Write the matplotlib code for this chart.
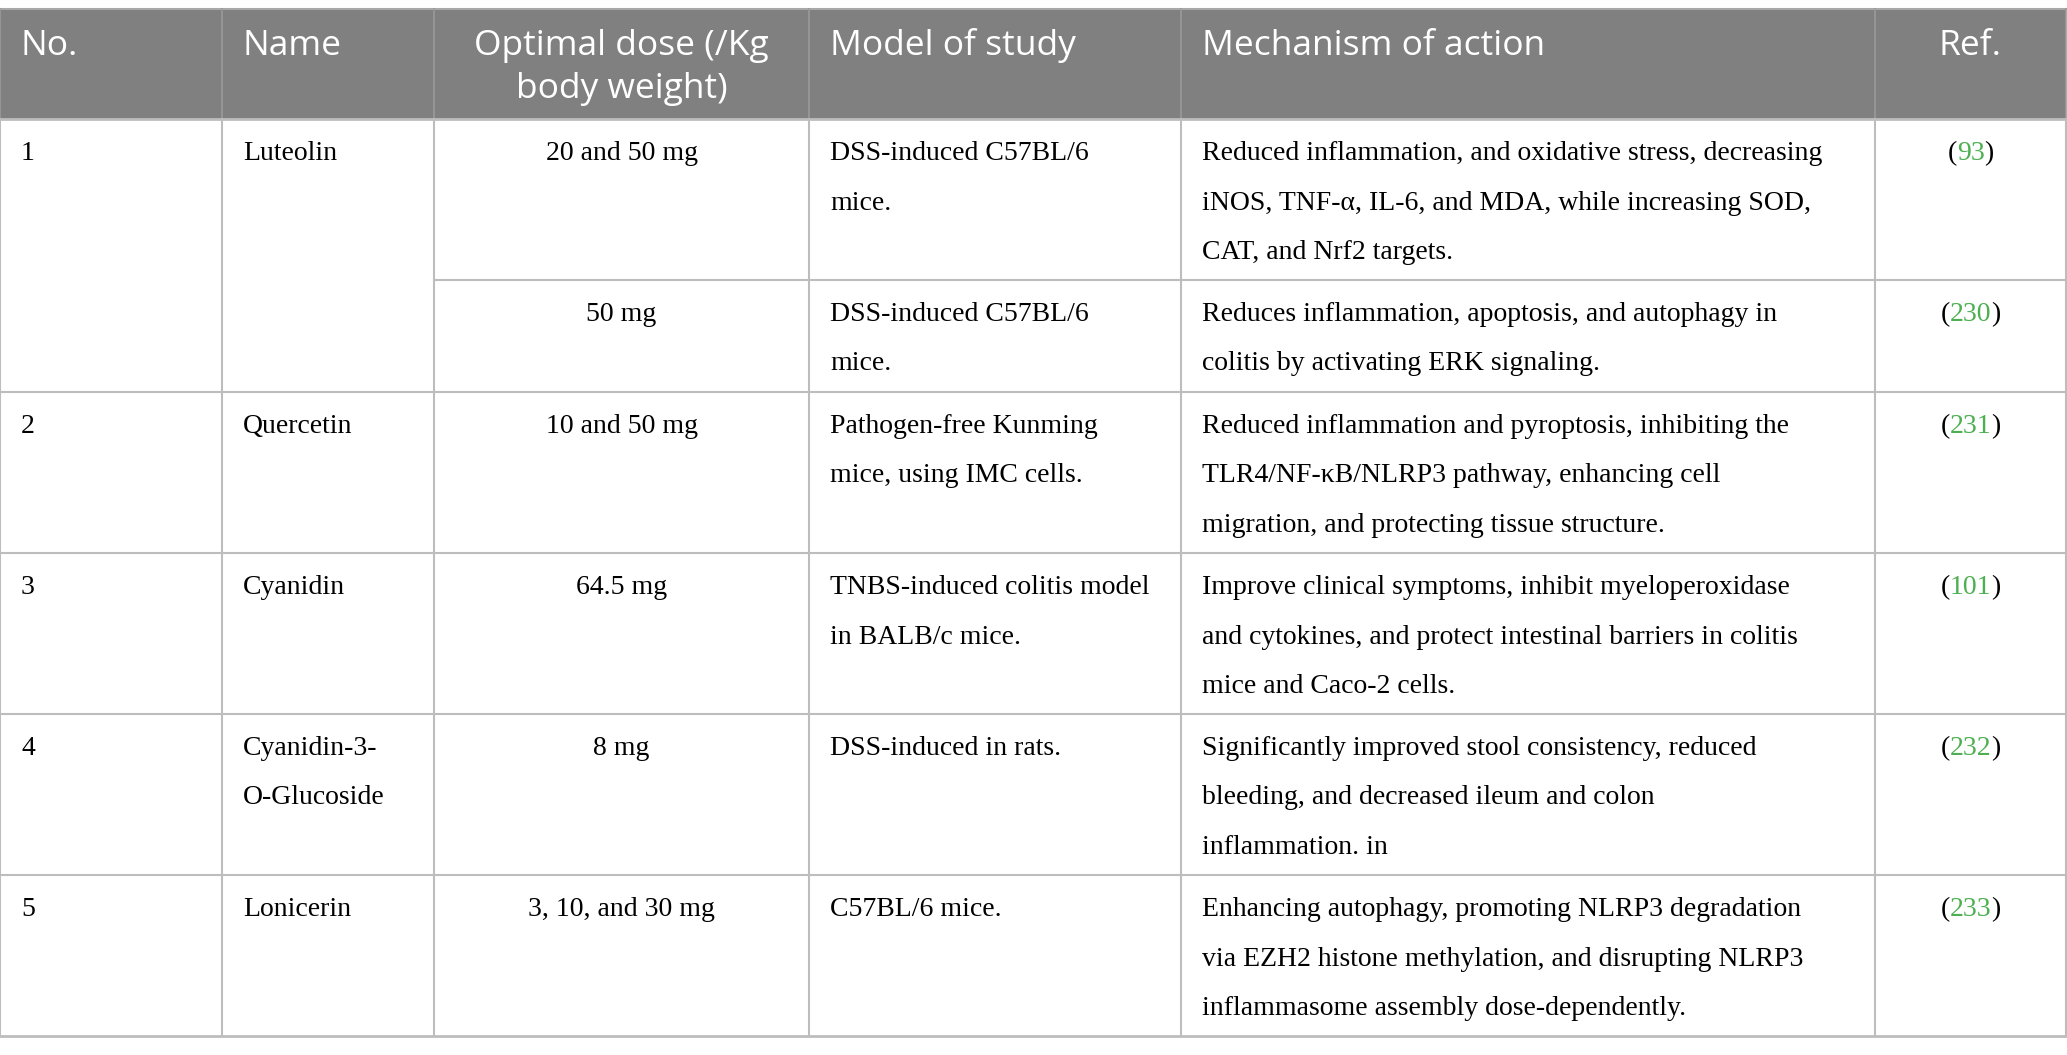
import matplotlib.pyplot as plt

W, H = 2067, 1055

HEADERS = ['No.', 'Name', 'Optimal dose (/Kg\nbody weight)', 'Model of study',
           'Mechanism of action', 'Ref.']
NOS = ['1', '1', '2', '3', '4', '5']
NAMES = ['Luteolin', 'Luteolin', 'Quercetin', 'Cyanidin', 'Cyanidin-3-\nO-Glucoside', 'Lonicerin']
DOSES = ['20 and 50 mg', '50 mg', '10 and 50 mg', '64.5 mg', '8 mg', '3, 10, and 30 mg']
MODELS = ['DSS-induced C57BL/6\nmice.',
          'DSS-induced C57BL/6\nmice.',
          'Pathogen-free Kunming\nmice, using IMC cells.',
          'TNBS-induced colitis model\nin BALB/c mice.',
          'DSS-induced in rats.',
          'C57BL/6 mice.']
MECHS = ['Reduced inflammation, and oxidative stress, decreasing\n'
         'iNOS, TNF-\u03b1, IL-6, and MDA, while increasing SOD,\nCAT, and Nrf2 targets.',
         'Reduces inflammation, apoptosis, and autophagy in\ncolitis by activating ERK signaling.',
         'Reduced inflammation and pyroptosis, inhibiting the\n'
         'TLR4/NF-\u03baB/NLRP3 pathway, enhancing cell\nmigration, and protecting tissue structure.',
         'Improve clinical symptoms, inhibit myeloperoxidase\n'
         'and cytokines, and protect intestinal barriers in colitis\nmice and Caco-2 cells.',
         'Significantly improved stool consistency, reduced\n'
         'bleeding, and decreased ileum and colon\ninflammation. in',
         'Enhancing autophagy, promoting NLRP3 degradation\n'
         'via EZH2 histone methylation, and disrupting NLRP3\ninflammasome assembly dose-dependently.']
REFS = ['93', '230', '231', '101', '232', '233']

COL_X = [0, 222, 434, 809, 1181, 1875, 2066]
ALIGN = ['left', 'left', 'center', 'left', 'left', 'center']
HEAD_COLOR = '#7f807f'
GRID = '#bdbdbd'
GREEN = '#4caf50'
SERIF = 'Liberation Serif'
SANS = 'Open Sans'
BODY_FS = 20
HEAD_FS = 25.5
LINE_H = 49.5
TOP, HEAD_BOT = 9, 119


def put_lines(ax, x, y0, text, ha, **kw):
    for i, line in enumerate(text.split('\n')):
        ax.text(x, y0 + i * LINE_H, line, ha=ha, va='baseline', **kw)


def col_anchor(c):
    if ALIGN[c] == 'center':
        return (COL_X[c] + COL_X[c + 1]) / 2
    return COL_X[c] + 21


def main():
    fig = plt.figure(figsize=(W / 100, H / 100), dpi=100)
    ax = fig.add_axes([0, 0, 1, 1])
    ax.set_xlim(0, W)
    ax.set_ylim(H, 0)
    ax.axis('off')

    # header band
    ax.add_patch(plt.Rectangle((0, TOP), COL_X[-1], HEAD_BOT - TOP, color=HEAD_COLOR, lw=0))
    ax.plot([0, COL_X[-1]], [TOP, TOP], color='#a8a8a8', lw=1.5)
    for c, h in enumerate(HEADERS):
        for i, line in enumerate(h.split('\n')):
            ax.text(col_anchor(c), 55 + i * 43, line, ha=ALIGN[c], va='baseline',
                    color='white', fontsize=HEAD_FS, family=SANS)

    # body rows
    y = HEAD_BOT
    inv = ax.transData.inverted()
    for r in range(len(NOS)):
        n_lines = max(len(s.split('\n')) for s in [NAMES[r], DOSES[r], MODELS[r], MECHS[r]])
        n_lines = max(n_lines, 2)
        h = 14 + 49 * n_lines
        base = y + 41
        first = r == 0 or NOS[r] != NOS[r - 1]
        if first:
            put_lines(ax, col_anchor(0), base, NOS[r], 'left', fontsize=BODY_FS, family=SERIF)
            put_lines(ax, col_anchor(1), base, NAMES[r], 'left', fontsize=BODY_FS, family=SERIF)
        put_lines(ax, col_anchor(2), base, DOSES[r], 'center', fontsize=BODY_FS, family=SERIF)
        put_lines(ax, col_anchor(3), base, MODELS[r], 'left', fontsize=BODY_FS, family=SERIF)
        put_lines(ax, col_anchor(4), base, MECHS[r], 'left', fontsize=BODY_FS, family=SERIF)

        # reference: black brackets, green number
        t = ax.text(col_anchor(5), base, '(' + REFS[r] + ')', ha='center', va='baseline',
                    fontsize=BODY_FS, family=SERIF)
        fig.canvas.draw()
        x0 = inv.transform((t.get_window_extent().x0, 0))[0]
        t.remove()
        a = ax.text(x0, base, '(', ha='left', va='baseline', fontsize=BODY_FS, family=SERIF)
        fig.canvas.draw()
        x1 = inv.transform((a.get_window_extent().x1, 0))[0]
        b = ax.text(x1, base, REFS[r], ha='left', va='baseline', fontsize=BODY_FS,
                    family=SERIF, color=GREEN)
        fig.canvas.draw()
        x2 = inv.transform((b.get_window_extent().x1, 0))[0]
        ax.text(x2, base, ')', ha='left', va='baseline', fontsize=BODY_FS, family=SERIF)

        # horizontal line above row
        if r > 0:
            xs = COL_X[2] if not first else 0
            ax.plot([xs, COL_X[-1]], [y, y], color=GRID, lw=1.5)
        y += h

    bottom = y
    ax.plot([0, COL_X[-1]], [HEAD_BOT, HEAD_BOT], color=GRID, lw=2)
    ax.plot([0, COL_X[-1]], [bottom, bottom], color=GRID, lw=2)
    for x in COL_X:
        ax.plot([x, x], [TOP, HEAD_BOT], color='#9a9a9a', lw=1.2)
        ax.plot([x, x], [HEAD_BOT, bottom], color=GRID, lw=1.5)

    fig.savefig('out.png', dpi=100)


if __name__ == '__main__':
    main()
